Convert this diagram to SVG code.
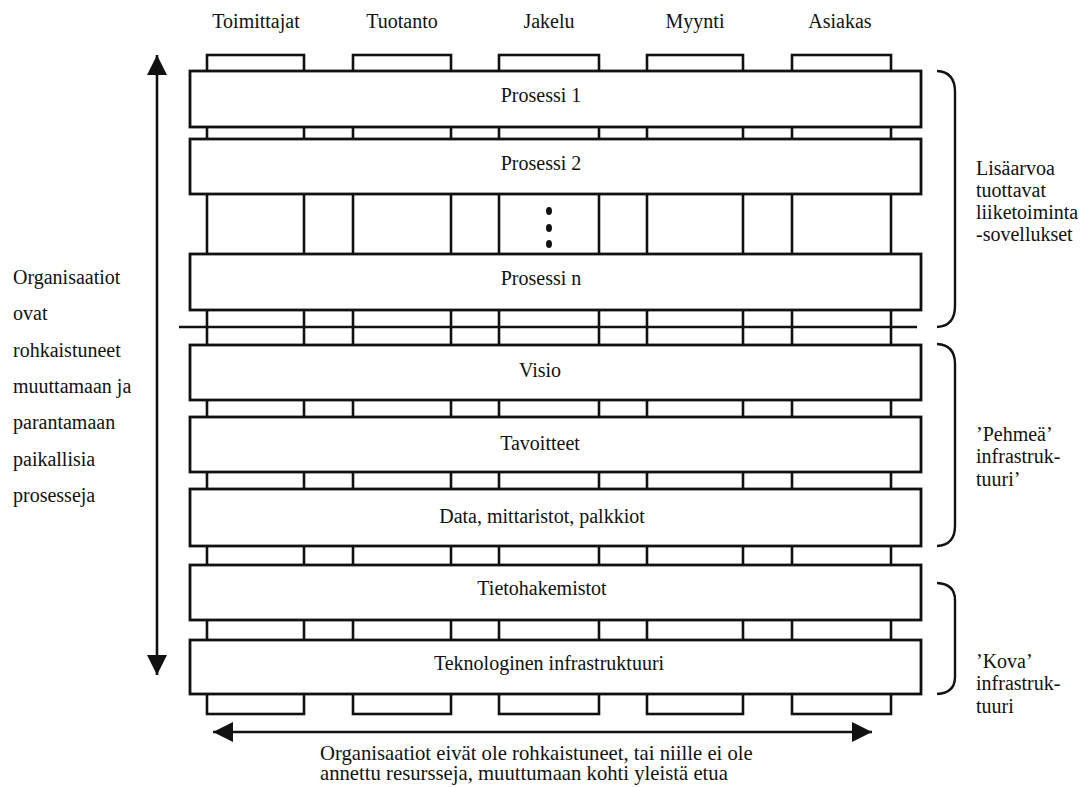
<svg xmlns="http://www.w3.org/2000/svg" width="1087" height="787" viewBox="0 0 1087 787">
  <style>
    text { font-family: "Liberation Serif", "Times New Roman", serif; font-size: 20px; fill: #111; }
    .mid { text-anchor: middle; }
    .col { fill: none; stroke: #111; stroke-width: 2.6; }
    .bar rect { fill: #fff; stroke: #111; stroke-width: 2.8; }
    .brace { fill: none; stroke: #111; stroke-width: 2.4; }
    .line { stroke: #111; stroke-width: 2.6; fill: none; }
    .foot { font-size: 20.7px; }
  </style>
  <defs>
    <marker id="head" viewBox="0 0 20 20" refX="20" refY="10" markerWidth="20" markerHeight="20" markerUnits="userSpaceOnUse" orient="auto-start-reverse">
      <path d="M0,0 L20,10 L0,20 Z" fill="#111"/>
    </marker>
  </defs>
  <rect width="1087" height="787" fill="#fff"/>

  <!-- column headings -->
  <g id="headings">
    <text class="mid" x="256" y="28">Toimittajat</text>
    <text class="mid" x="402" y="28">Tuotanto</text>
    <text class="mid" x="549" y="28">Jakelu</text>
    <text class="mid" x="695" y="28">Myynti</text>
    <text class="mid" x="840" y="28">Asiakas</text>
  </g>

  <!-- vertical value-chain columns running behind the layers -->
  <g id="columns">
    <rect id="col-toimittajat" class="col" x="207" y="55" width="97" height="659"/>
    <rect id="col-tuotanto" class="col" x="353" y="55" width="98" height="659"/>
    <rect id="col-jakelu" class="col" x="499" y="55" width="100" height="659"/>
    <rect id="col-myynti" class="col" x="647" y="55" width="96" height="659"/>
    <rect id="col-asiakas" class="col" x="792" y="55" width="99" height="659"/>
  </g>

  <!-- horizontal layers -->
  <g id="prosessi-1" class="bar"><rect x="190" y="71" width="731" height="56"/><text class="mid" x="541" y="102">Prosessi 1</text></g>
  <g id="prosessi-2" class="bar"><rect x="190" y="139" width="731" height="55"/><text class="mid" x="541" y="170">Prosessi 2</text></g>
  <g id="ellipsis">
    <ellipse cx="549" cy="211" rx="3" ry="4" fill="#111"/>
    <ellipse cx="549" cy="228" rx="3" ry="4" fill="#111"/>
    <ellipse cx="549" cy="244" rx="3" ry="4" fill="#111"/>
  </g>
  <g id="prosessi-n" class="bar"><rect x="190" y="254" width="731" height="56"/><text class="mid" x="541" y="285">Prosessi n</text></g>

  <g id="divider"><line class="line" x1="179" y1="327" x2="917" y2="327" stroke-width="3"/></g>

  <g id="visio" class="bar"><rect x="190" y="345" width="731" height="55"/><text class="mid" x="540" y="377">Visio</text></g>
  <g id="tavoitteet" class="bar"><rect x="190" y="417" width="731" height="55"/><text class="mid" x="540" y="450">Tavoitteet</text></g>
  <g id="data" class="bar"><rect x="190" y="489" width="731" height="57"/><text class="mid" x="542" y="523">Data, mittaristot, palkkiot</text></g>
  <g id="tietohakemistot" class="bar"><rect x="190" y="565" width="731" height="55"/><text class="mid" x="542" y="595">Tietohakemistot</text></g>
  <g id="teknologinen" class="bar"><rect x="190" y="640" width="731" height="54"/><text class="mid" x="549" y="670">Teknologinen infrastruktuuri</text></g>

  <!-- arrows -->
  <g id="connectors">
    <line class="line" x1="157" y1="675" x2="157" y2="55" marker-end="url(#head)" marker-start="url(#head)"/>
    <line class="line" x1="213" y1="732" x2="872" y2="732" marker-end="url(#head)" marker-start="url(#head)"/>
  </g>

  <!-- braces -->
  <g id="braces">
    <path class="brace" d="M937,71 Q955,72 955,92 L955,306 Q955,326 937,327"/>
    <path class="brace" d="M937,344 Q955,345 955,364 L955,526 Q955,545 937,546"/>
    <path class="brace" d="M937,583 Q955,584 955,600 L955,677 Q955,693 937,694"/>
  </g>

  <!-- side labels -->
  <g id="label-left">
    <text x="13" y="284">Organisaatiot</text>
    <text x="13" y="320">ovat</text>
    <text x="13" y="357">rohkaistuneet</text>
    <text x="13" y="393">muuttamaan ja</text>
    <text x="13" y="429">parantamaan</text>
    <text x="13" y="466">paikallisia</text>
    <text x="13" y="502">prosesseja</text>
  </g>
  <g id="label-sovellukset">
    <text x="976" y="175">Lisäarvoa</text>
    <text x="976" y="197">tuottavat</text>
    <text x="976" y="219">liiketoiminta</text>
    <text x="976" y="241">-sovellukset</text>
  </g>
  <g id="label-pehmea">
    <text x="976" y="441">’Pehmeä’</text>
    <text x="976" y="463">infrastruk-</text>
    <text x="976" y="486">tuuri’</text>
  </g>
  <g id="label-kova">
    <text x="976" y="668">’Kova’</text>
    <text x="976" y="690">infrastruk-</text>
    <text x="976" y="713">tuuri</text>
  </g>
  <g id="label-bottom">
    <text class="foot" x="320" y="760">Organisaatiot eivät ole rohkaistuneet, tai niille ei ole</text>
    <text class="foot" x="320" y="780">annettu resursseja, muuttumaan kohti yleistä etua</text>
  </g>
</svg>
